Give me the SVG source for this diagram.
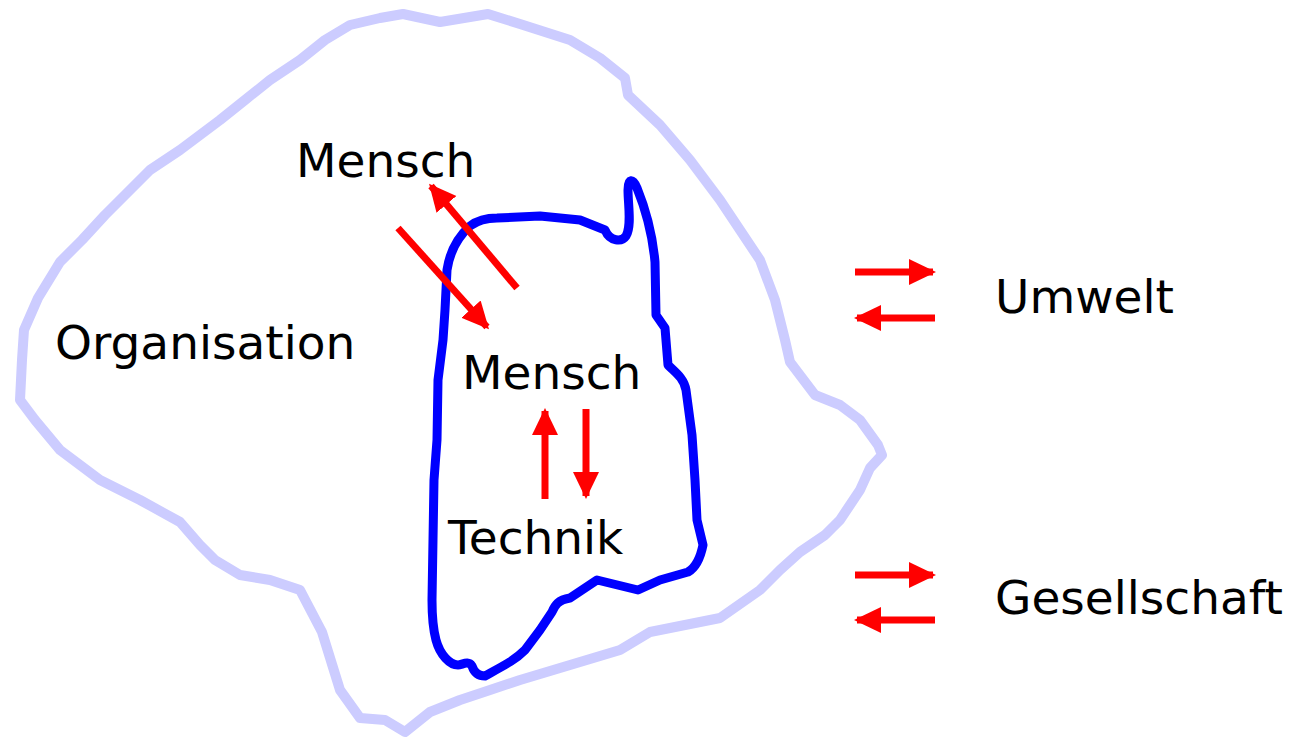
<svg xmlns="http://www.w3.org/2000/svg" width="1296" height="740" viewBox="0 0 1296 740">
  <style>
    .label { font-family: "DejaVu Sans", Verdana, sans-serif; font-size: 47px; fill: #000; }
    .outer { fill: none; stroke: #CCCCFF; stroke-width: 10; stroke-linejoin: round; stroke-linecap: round; }
    .inner { fill: none; stroke: #0000FF; stroke-width: 9; stroke-linejoin: round; stroke-linecap: round; }
    .arrow { stroke: #FF0000; stroke-width: 7; fill: none; marker-end: url(#head); }
  </style>
  <defs>
    <marker id="head" markerUnits="userSpaceOnUse" viewBox="0 0 28 28" markerWidth="28" markerHeight="28" refX="24" refY="14" orient="auto">
      <polygon points="0,1 27,14 0,27" fill="#FF0000"/>
    </marker>
  </defs>
  <rect width="1296" height="740" fill="#FFFFFF"/>

  <g id="organisation">
    <path class="outer" d="M403,14 L440,22 L488,14 L520,24 L570,40 L600,58 L625,78 L628,95 L660,125 L690,160 L720,200 L740,230 L760,260 L775,300 L785,340 L790,362 L815,395 L840,405 L860,420 L878,445 L882,455 L870,468 L860,490 L840,520 L825,535 L800,552 L780,570 L760,590 L720,618 L680,626 L650,632 L620,650 L570,665 L520,680 L490,690 L460,700 L430,712 L405,732 L385,720 L360,718 L340,690 L322,632 L300,590 L270,580 L240,575 L215,560 L200,545 L180,522 L140,500 L100,480 L60,450 L35,420 L20,400 L22,360 L24,330 L38,298 L60,262 L82,240 L105,215 L125,195 L150,170 L180,150 L200,135 L220,120 L245,100 L270,80 L300,60 L325,40 L350,25 L380,18 Z"/>
    <text class="label" x="55" y="359">Organisation</text>
  </g>

  <g id="arbeitssystem">
    <path class="inner" d="M497,218 L540,216 L580,220 L605,230 C610,242 622,242 626,236 C632,226 628,205 628,190 C628,178 633,178 637,188 C648,215 653,240 655,262 L656,315 L665,328 L668,365 C675,372 684,378 686,390 L692,435 L695,480 L697,520 L703,545 C700,560 695,568 688,572 L660,580 L638,590 L597,580 L570,598 C558,600 555,605 552,612 L540,630 L525,650 C515,660 505,665 485,676 C478,676 474,672 472,666 C468,660 462,665 458,665 C450,665 440,655 436,640 C432,625 432,610 432,600 L433,540 L434,480 L437,440 L438,380 L443,340 L445,310 L447,270 C450,250 460,235 470,226 C478,220 488,218 497,218 Z"/>
  </g>

  <g id="mensch-aussen">
    <text class="label" x="296" y="177">Mensch</text>
  </g>
  <g id="mensch-innen">
    <text class="label" x="462" y="389">Mensch</text>
  </g>
  <g id="technik">
    <text class="label" x="448" y="554">Technik</text>
  </g>
  <g id="umwelt">
    <text class="label" x="995" y="313">Umwelt</text>
  </g>
  <g id="gesellschaft">
    <text class="label" x="995" y="614">Gesellschaft</text>
  </g>

  <g id="connectors">
    <line class="arrow" x1="517" y1="288" x2="431" y2="186"/>
    <line class="arrow" x1="398" y1="228" x2="487" y2="327"/>
    <line class="arrow" x1="545" y1="499" x2="545" y2="411"/>
    <line class="arrow" x1="586" y1="409" x2="586" y2="496"/>
    <line class="arrow" x1="855" y1="272" x2="933" y2="272"/>
    <line class="arrow" x1="935" y1="318" x2="857" y2="318"/>
    <line class="arrow" x1="855" y1="575" x2="933" y2="575"/>
    <line class="arrow" x1="935" y1="620" x2="857" y2="620"/>
  </g>
</svg>
